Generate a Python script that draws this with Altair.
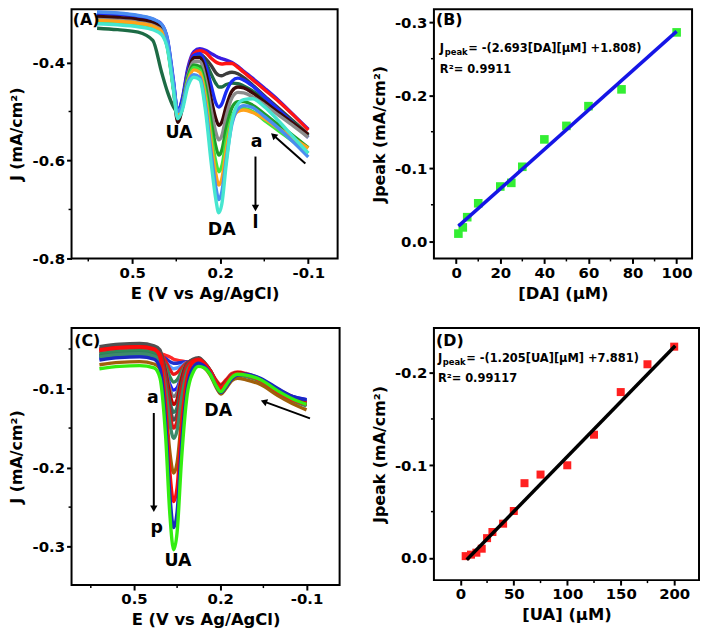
import altair as alt
import pandas as pd

FONT = "DejaVu Sans"

# ---------------- Panel A : DPV, varying DA (curves a..l) ----------------
A_E = [0.62, 0.55, 0.48, 0.43, 0.40, 0.38, 0.36, 0.345, 0.33, 0.31, 0.29, 0.27, 0.25,
       0.23, 0.215, 0.205, 0.195, 0.18, 0.16, 0.14, 0.12, 0.09, 0.05, 0.0, -0.05, -0.1]
A_a = [-0.298, -0.300, -0.305, -0.312, -0.322, -0.352, -0.435, -0.500, -0.475, -0.410, -0.378, -0.372, -0.375,
       -0.382, -0.387, -0.390, -0.392, -0.395, -0.400, -0.408, -0.418, -0.432, -0.452, -0.478, -0.507, -0.536]
A_b = [-0.310, -0.312, -0.316, -0.322, -0.332, -0.362, -0.445, -0.508, -0.482, -0.415, -0.382, -0.376, -0.380,
       -0.392, -0.399, -0.402, -0.403, -0.402, -0.402, -0.410, -0.420, -0.435, -0.455, -0.480, -0.508, -0.538]
A_c = [-0.308, -0.310, -0.314, -0.320, -0.330, -0.360, -0.445, -0.510, -0.485, -0.418, -0.386, -0.383, -0.392,
       -0.407, -0.421, -0.426, -0.427, -0.423, -0.420, -0.423, -0.431, -0.446, -0.468, -0.494, -0.520, -0.547]
A_d = [-0.330, -0.333, -0.338, -0.355, -0.420, -0.460, -0.490, -0.502, -0.485, -0.425, -0.390, -0.387, -0.400,
       -0.425, -0.443, -0.450, -0.450, -0.445, -0.442, -0.443, -0.448, -0.458, -0.475, -0.498, -0.522, -0.550]
A_e = [-0.300, -0.302, -0.307, -0.314, -0.325, -0.356, -0.440, -0.500, -0.478, -0.415, -0.385, -0.382, -0.405,
       -0.450, -0.483, -0.491, -0.485, -0.460, -0.438, -0.432, -0.436, -0.448, -0.470, -0.497, -0.525, -0.553]
A_f = [-0.306, -0.308, -0.312, -0.318, -0.330, -0.362, -0.450, -0.522, -0.495, -0.425, -0.390, -0.390, -0.420,
       -0.478, -0.515, -0.528, -0.522, -0.490, -0.458, -0.450, -0.452, -0.462, -0.480, -0.503, -0.525, -0.547]
A_g = [-0.312, -0.314, -0.318, -0.324, -0.335, -0.366, -0.450, -0.510, -0.488, -0.425, -0.398, -0.398, -0.435,
       -0.500, -0.543, -0.558, -0.550, -0.510, -0.472, -0.461, -0.462, -0.470, -0.486, -0.508, -0.530, -0.553]
A_h = [-0.316, -0.318, -0.322, -0.328, -0.338, -0.368, -0.450, -0.505, -0.488, -0.430, -0.405, -0.408, -0.450,
       -0.525, -0.572, -0.589, -0.580, -0.535, -0.492, -0.480, -0.480, -0.487, -0.505, -0.528, -0.550, -0.574]
A_i = [-0.318, -0.320, -0.324, -0.330, -0.340, -0.370, -0.452, -0.510, -0.492, -0.435, -0.410, -0.415, -0.465,
       -0.550, -0.603, -0.623, -0.612, -0.560, -0.510, -0.495, -0.494, -0.500, -0.518, -0.540, -0.562, -0.585]
A_j = [-0.314, -0.316, -0.320, -0.326, -0.337, -0.367, -0.450, -0.505, -0.490, -0.438, -0.415, -0.420, -0.475,
       -0.568, -0.628, -0.650, -0.638, -0.580, -0.520, -0.500, -0.497, -0.502, -0.515, -0.535, -0.555, -0.575]
A_k = [-0.297, -0.299, -0.304, -0.311, -0.322, -0.353, -0.438, -0.500, -0.488, -0.440, -0.425, -0.430, -0.490,
       -0.590, -0.655, -0.680, -0.665, -0.600, -0.525, -0.495, -0.488, -0.492, -0.510, -0.535, -0.563, -0.593]
A_l = [-0.321, -0.323, -0.327, -0.333, -0.343, -0.372, -0.455, -0.515, -0.498, -0.448, -0.430, -0.435, -0.500,
       -0.610, -0.680, -0.707, -0.690, -0.610, -0.520, -0.485, -0.476, -0.474, -0.490, -0.520, -0.553, -0.585]
A_curves = [A_a, A_b, A_c, A_d, A_e, A_f, A_g, A_h, A_i, A_j, A_k, A_l]
A_names = ["a", "b", "c", "d", "e", "f", "g", "h", "i", "j", "k", "l"]
A_colors = ["#3a1ce0", "#ff1414", "#3c3c3c", "#1d6b45", "#1a2cf5", "#3a0808",
            "#8c8c8c", "#1f9e2a", "#3ee83e", "#ffa31a", "#4a8df0", "#46e6cf"]

# ---------------- Panel C : DPV, varying UA (curves a..p) ----------------
C_E = [0.62, 0.55, 0.48, 0.43, 0.41, 0.39, 0.375, 0.362, 0.35, 0.335, 0.315, 0.295, 0.275,
       0.255, 0.235, 0.215, 0.198, 0.18, 0.16, 0.14, 0.11, 0.06, 0.0, -0.05, -0.1]
C_a = [-0.055, -0.052, -0.051, -0.054, -0.056, -0.058, -0.060, -0.063, -0.064, -0.065, -0.066, -0.066, -0.065,
       -0.069, -0.077, -0.089, -0.095, -0.089, -0.081, -0.079, -0.081, -0.088, -0.101, -0.110, -0.117]
C_b = [-0.058, -0.055, -0.054, -0.057, -0.059, -0.062, -0.066, -0.068, -0.068, -0.067, -0.066, -0.066, -0.066,
       -0.070, -0.078, -0.092, -0.099, -0.092, -0.083, -0.080, -0.082, -0.088, -0.102, -0.111, -0.115]
C_c = [-0.060, -0.057, -0.056, -0.059, -0.061, -0.066, -0.072, -0.075, -0.074, -0.071, -0.067, -0.066, -0.066,
       -0.071, -0.079, -0.093, -0.101, -0.094, -0.085, -0.082, -0.084, -0.090, -0.104, -0.114, -0.120]
C_d = [-0.053, -0.050, -0.049, -0.052, -0.055, -0.065, -0.076, -0.082, -0.080, -0.074, -0.067, -0.065, -0.064,
       -0.068, -0.077, -0.090, -0.096, -0.090, -0.082, -0.080, -0.082, -0.089, -0.102, -0.112, -0.118]
C_e = [-0.056, -0.053, -0.052, -0.055, -0.059, -0.071, -0.085, -0.092, -0.089, -0.079, -0.068, -0.066, -0.065,
       -0.069, -0.078, -0.092, -0.100, -0.093, -0.084, -0.081, -0.083, -0.090, -0.104, -0.113, -0.120]
C_f = [-0.062, -0.059, -0.058, -0.061, -0.065, -0.078, -0.095, -0.102, -0.099, -0.085, -0.071, -0.067, -0.066,
       -0.070, -0.079, -0.094, -0.103, -0.096, -0.086, -0.082, -0.083, -0.089, -0.102, -0.110, -0.114]
C_g = [-0.052, -0.049, -0.048, -0.051, -0.055, -0.076, -0.100, -0.110, -0.105, -0.084, -0.068, -0.064, -0.063,
       -0.068, -0.077, -0.091, -0.098, -0.092, -0.083, -0.081, -0.083, -0.090, -0.104, -0.114, -0.121]
C_h = [-0.050, -0.047, -0.046, -0.049, -0.053, -0.078, -0.107, -0.120, -0.114, -0.088, -0.068, -0.064, -0.063,
       -0.068, -0.077, -0.091, -0.097, -0.091, -0.083, -0.080, -0.082, -0.089, -0.103, -0.113, -0.119]
C_i = [-0.059, -0.056, -0.055, -0.058, -0.062, -0.088, -0.117, -0.130, -0.124, -0.097, -0.074, -0.068, -0.066,
       -0.070, -0.079, -0.093, -0.101, -0.094, -0.085, -0.082, -0.084, -0.090, -0.104, -0.114, -0.121]
C_j = [-0.047, -0.044, -0.043, -0.046, -0.051, -0.083, -0.122, -0.140, -0.132, -0.097, -0.069, -0.063, -0.061,
       -0.067, -0.077, -0.091, -0.098, -0.092, -0.083, -0.081, -0.083, -0.090, -0.104, -0.114, -0.121]
C_k = [-0.052, -0.049, -0.048, -0.051, -0.056, -0.090, -0.132, -0.150, -0.141, -0.104, -0.072, -0.065, -0.063,
       -0.068, -0.078, -0.092, -0.099, -0.093, -0.084, -0.081, -0.083, -0.090, -0.104, -0.114, -0.120]
C_l = [-0.060, -0.057, -0.056, -0.059, -0.064, -0.100, -0.144, -0.163, -0.153, -0.114, -0.078, -0.068, -0.066,
       -0.070, -0.080, -0.094, -0.102, -0.095, -0.086, -0.083, -0.085, -0.091, -0.105, -0.115, -0.122]
C_m = [-0.070, -0.067, -0.066, -0.069, -0.075, -0.122, -0.181, -0.207, -0.194, -0.141, -0.088, -0.074, -0.071,
       -0.074, -0.083, -0.098, -0.107, -0.100, -0.090, -0.087, -0.089, -0.095, -0.109, -0.119, -0.127]
C_n = [-0.051, -0.048, -0.047, -0.050, -0.060, -0.122, -0.206, -0.243, -0.225, -0.150, -0.087, -0.067, -0.064,
       -0.069, -0.078, -0.092, -0.100, -0.093, -0.084, -0.081, -0.083, -0.090, -0.104, -0.114, -0.120]
C_o = [-0.064, -0.061, -0.060, -0.063, -0.074, -0.142, -0.235, -0.276, -0.256, -0.173, -0.100, -0.074, -0.068,
       -0.072, -0.081, -0.096, -0.105, -0.098, -0.088, -0.083, -0.082, -0.087, -0.100, -0.110, -0.114]
C_p = [-0.075, -0.072, -0.071, -0.074, -0.086, -0.160, -0.260, -0.304, -0.282, -0.192, -0.108, -0.080, -0.072,
       -0.074, -0.082, -0.096, -0.104, -0.096, -0.086, -0.082, -0.083, -0.089, -0.103, -0.113, -0.120]
C_curves = [C_a, C_b, C_c, C_d, C_e, C_f, C_g, C_h, C_i, C_j, C_k, C_l, C_m, C_n, C_o, C_p]
C_names = ["a", "b", "c", "d", "e", "f", "g", "h", "i", "j", "k", "l", "m", "n", "o", "p"]
C_colors = ["#ff2a2a", "#2030d0", "#5b9bff", "#e81818", "#2e8b57", "#1a1aff", "#7a7a7a", "#c00000",
            "#2f7a60", "#505050", "#e01515", "#3d8b6a", "#a0600a", "#ff0a0a", "#1a28c0", "#33ee11"]

# ---------------- Panel B : calibration DA ----------------
B_conc = [1, 3, 5, 10, 20, 25, 30, 40, 50, 60, 75, 100]
B_j = [-0.0105, -0.019, -0.033, -0.052, -0.075, -0.080, -0.102, -0.1395, -0.158, -0.185, -0.208, -0.286]
B_fit_x = [1, 100]
B_fit_y = [-0.0207, -0.2874]

# ---------------- Panel D : calibration UA ----------------
D_conc = [5, 10, 15, 20, 25, 30, 40, 50, 60, 75, 100, 125, 150, 175, 200]
D_j = [-0.002, -0.0036, -0.0057, -0.010, -0.0214, -0.028, -0.037, -0.0507, -0.0807, -0.090,
       -0.100, -0.133, -0.179, -0.209, -0.228]
D_fit_x = [6, 201]
D_fit_y = [0.002, -0.229]


def curves_df(xs, curves, names, key):
    rows = []
    for n, ys in zip(names, curves):
        for x, y in zip(xs, ys):
            rows.append({"E": x, "J": y, key: n})
    return pd.DataFrame(rows)


def neg_fmt(d):
    return "(datum.value < 0 ? '-' : '') + format(abs(datum.value), '.%df')" % d


def text_layer(df, X, Y, size, **kw):
    return alt.Chart(df).mark_text(font=FONT, fontWeight="bold", fontSize=size, color="black",
                                   **kw).encode(x=X, y=Y, text="t:N")


def minor_x(vals, field, X, H):
    return alt.Chart(pd.DataFrame({field: vals})).mark_rule(color="black", strokeWidth=1.5).encode(
        x=X, y=alt.value(H), y2=alt.value(H + 3))


def minor_y(vals, field, Y):
    return alt.Chart(pd.DataFrame({field: vals})).mark_rule(color="black", strokeWidth=1.5).encode(
        y=Y, x=alt.value(0), x2=alt.value(-3))


def arrow(df, X, Y):
    return alt.Chart(df).mark_line(color="black", strokeWidth=2).encode(x=X, y=Y, detail="id:N")


def head(df, X, Y, shape, angle=0):
    return alt.Chart(df).mark_point(shape=shape, angle=angle, filled=True, size=55, color="black",
                                    opacity=1).encode(x=X, y=Y)


TITLE_X = -47
TITLE_Y = 27
XT = 16.5     # x-axis title size
YT = 16       # y-axis title size
LAB = 17.5    # in-plot labels
TAG = 16      # panel tags
EQ = 11.5     # equation text
SUB = 8.5     # subscript
LW = 3.4      # curve width

# ---------- Panel A chart ----------
WA, HA = 268, 251
AX = alt.X("E:Q", scale=alt.Scale(domain=[-0.2, 0.707], reverse=True, nice=False, zero=False),
           axis=alt.Axis(title="E (V vs Ag/AgCl)", values=[0.5, 0.2, -0.1], labelExpr=neg_fmt(1),
                         titleY=TITLE_Y, titleFontSize=XT))
AY = alt.Y("J:Q", scale=alt.Scale(domain=[-0.8, -0.2913], nice=False, zero=False),
           axis=alt.Axis(title="J (mA/cm²)", values=[-0.4, -0.6, -0.8], labelExpr=neg_fmt(1),
                         titleX=TITLE_X, titleFontSize=YT))
A_lines = alt.Chart(curves_df(A_E, A_curves, A_names, "curveA")).mark_line(
    strokeWidth=LW, interpolate="monotone").encode(
    x=AX, y=AY, color=alt.Color("curveA:N", scale=alt.Scale(domain=A_names, range=A_colors), legend=None))
A_lab = pd.DataFrame({"E": [0.341, 0.195, 0.076, 0.08], "J": [-0.545, -0.742, -0.562, -0.728],
                      "t": ["UA", "DA", "a", "l"]})
A_tag = pd.DataFrame({"E": [0.703], "J": [-0.2974], "t": ["(A)"]})
A_arr = pd.DataFrame({"E": [0.08, 0.08, -0.09, 0.012], "J": [-0.592, -0.695, -0.606, -0.552], "id": [1, 1, 2, 2]})
A_head1 = pd.DataFrame({"E": [0.08], "J": [-0.697]})
A_head2 = pd.DataFrame({"E": [0.016], "J": [-0.550]})
panelA = alt.layer(
    A_lines,
    text_layer(A_lab, AX, AY, LAB),
    text_layer(A_tag, AX, AY, TAG, align="left", baseline="top"),
    arrow(A_arr, AX, AY),
    head(A_head1, AX, AY, "triangle-down"),
    head(A_head2, AX, AY, "triangle", 312),
    minor_x([0.65, 0.35, 0.05], "E", AX, HA),
    minor_y([-0.5, -0.7], "J", AY),
).properties(width=WA, height=HA)

# ---------- Panel B chart ----------
WB, HB = 260, 251
BX = alt.X("c:Q", scale=alt.Scale(domain=[-10.1, 107], nice=False, zero=False),
           axis=alt.Axis(title="[DA] (μM)", values=[0, 20, 40, 60, 80, 100], format="d",
                         titleY=TITLE_Y, titleFontSize=XT))
BY = alt.Y("J:Q", scale=alt.Scale(domain=[-0.3177, 0.0235], reverse=True, nice=False, zero=False),
           axis=alt.Axis(title="Jpeak (mA/cm²)", values=[0.0, -0.1, -0.2, -0.3], labelExpr=neg_fmt(1),
                         titleX=TITLE_X, titleFontSize=YT))
B_pts = alt.Chart(pd.DataFrame({"c": B_conc, "J": B_j})).mark_square(size=75, color="#33ee33", opacity=1).encode(x=BX, y=BY)
B_fit = alt.Chart(pd.DataFrame({"c": B_fit_x, "J": B_fit_y})).mark_line(color="#1515e6", strokeWidth=3.5).encode(x=BX, y=BY)
B_eq = pd.DataFrame({"c": [-7.4], "J": [-0.2633]})
B_r2 = pd.DataFrame({"c": [-7.4], "J": [-0.2347], "t": ["R²= 0.9911"]})
B_tag = pd.DataFrame({"c": [-9.2], "J": [-0.3136], "t": ["(B)"]})
panelB = alt.layer(
    B_pts, B_fit,
    text_layer(B_eq.assign(t="J"), BX, BY, EQ, align="left"),
    text_layer(B_eq.assign(t="peak"), BX, BY, SUB, align="left", dx=4.8, dy=3),
    text_layer(B_eq.assign(t="= -(2.693[DA][μM] +1.808)"), BX, BY, EQ, align="left", dx=28.5),
    text_layer(B_r2, BX, BY, EQ, align="left"),
    text_layer(B_tag, BX, BY, TAG, align="left", baseline="top"),
    minor_x([10, 30, 50, 70, 90], "c", BX, HB),
    minor_y([-0.05, -0.15, -0.25], "J", BY),
).properties(width=WB, height=HB)

# ---------- Panel C chart ----------
WC, HC = 270, 259
CX = alt.X("E:Q", scale=alt.Scale(domain=[-0.215, 0.717], reverse=True, nice=False, zero=False),
           axis=alt.Axis(title="E (V vs Ag/AgCl)", values=[0.5, 0.2, -0.1], labelExpr=neg_fmt(1),
                         titleY=TITLE_Y, titleFontSize=XT))
CY = alt.Y("J:Q", scale=alt.Scale(domain=[-0.3486, -0.0234], nice=False, zero=False),
           axis=alt.Axis(title="J (mA/cm²)", values=[-0.1, -0.2, -0.3], labelExpr=neg_fmt(1),
                         titleX=TITLE_X, titleFontSize=YT))
C_lines = alt.Chart(curves_df(C_E, C_curves, C_names, "curveC")).mark_line(
    strokeWidth=LW, interpolate="monotone").encode(
    x=CX, y=CY, color=alt.Color("curveC:N", scale=alt.Scale(domain=C_names, range=C_colors), legend=None))
C_lab = pd.DataFrame({"E": [0.347, 0.207, 0.434, 0.421], "J": [-0.318, -0.129, -0.1126, -0.276],
                      "t": ["UA", "DA", "a", "p"]})
C_tag = pd.DataFrame({"E": [0.708], "J": [-0.0297], "t": ["(C)"]})
C_arr = pd.DataFrame({"E": [0.431, 0.431, -0.112, 0.04], "J": [-0.131, -0.250, -0.1377, -0.1175], "id": [1, 1, 2, 2]})
C_head1 = pd.DataFrame({"E": [0.431], "J": [-0.252]})
C_head2 = pd.DataFrame({"E": [0.045], "J": [-0.117]})
panelC = alt.layer(
    C_lines,
    text_layer(C_lab, CX, CY, LAB),
    text_layer(C_tag, CX, CY, TAG, align="left", baseline="top"),
    arrow(C_arr, CX, CY),
    head(C_head1, CX, CY, "triangle-down"),
    head(C_head2, CX, CY, "triangle", 290),
    minor_x([0.65, 0.35, 0.05], "E", CX, HC),
    minor_y([-0.05, -0.15, -0.25], "J", CY),
).properties(width=WC, height=HC)

# ---------- Panel D chart ----------
WD, HD = 267, 254
DX = alt.X("c:Q", scale=alt.Scale(domain=[-24.7, 223.2], nice=False, zero=False),
           axis=alt.Axis(title="[UA] (μM)", values=[0, 50, 100, 150, 200], format="d",
                         titleY=TITLE_Y, titleFontSize=XT))
DY = alt.Y("J:Q", scale=alt.Scale(domain=[-0.2482, 0.0239], reverse=True, nice=False, zero=False),
           axis=alt.Axis(title="Jpeak (mA/cm²)", values=[0.0, -0.1, -0.2], labelExpr=neg_fmt(1),
                         titleX=TITLE_X, titleFontSize=YT))
D_pts = alt.Chart(pd.DataFrame({"c": D_conc, "J": D_j})).mark_square(size=65, color="#ff2020", opacity=1).encode(x=DX, y=DY)
D_fit = alt.Chart(pd.DataFrame({"c": D_fit_x, "J": D_fit_y})).mark_line(color="black", strokeWidth=3.5).encode(x=DX, y=DY)
D_eq = pd.DataFrame({"c": [-21], "J": [-0.215]})
D_r2 = pd.DataFrame({"c": [-21], "J": [-0.1935], "t": ["R²= 0.99117"]})
D_tag = pd.DataFrame({"c": [-22.8], "J": [-0.2428], "t": ["(D)"]})
panelD = alt.layer(
    D_pts, D_fit,
    text_layer(D_eq.assign(t="J"), DX, DY, EQ, align="left"),
    text_layer(D_eq.assign(t="peak"), DX, DY, SUB, align="left", dx=4.8, dy=3),
    text_layer(D_eq.assign(t="= -(1.205[UA][μM] +7.881)"), DX, DY, EQ, align="left", dx=28.5),
    text_layer(D_r2, DX, DY, EQ, align="left"),
    text_layer(D_tag, DX, DY, TAG, align="left", baseline="top"),
    minor_x([25, 75, 125, 175], "c", DX, HD),
    minor_y([-0.05, -0.15], "J", DY),
).properties(width=WD, height=HD)

chart = alt.concat(
    panelA, panelB, panelC, panelD,
    columns=2, spacing={"row": 70, "column": 95}, bounds="flush", align="each",
).resolve_scale(color="independent").properties(
    padding={"left": 0, "top": -6, "right": 0, "bottom": 0}
).configure_view(
    stroke="black", strokeWidth=2
).configure_axis(
    grid=False, domain=False, tickColor="black", tickWidth=2, tickSize=5,
    labelFont=FONT, labelFontSize=15, labelFontWeight="bold", labelColor="black", labelPadding=2,
    titleFont=FONT, titleFontSize=15, titleFontWeight="bold", titleColor="black",
)

chart.save("out.html", embed_options={"renderer": "svg", "actions": False})
